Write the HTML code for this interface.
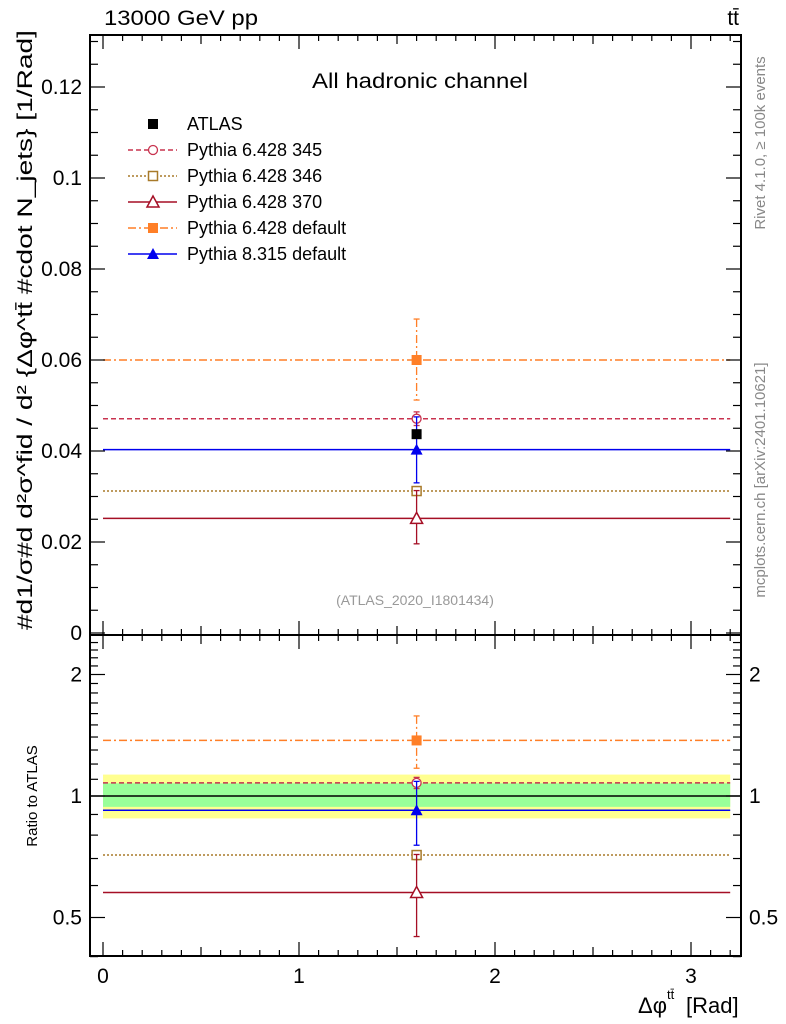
<!DOCTYPE html>
<html><head><meta charset="utf-8"><style>
html,body{margin:0;padding:0;background:#fff;}
svg{display:block;font-family:"Liberation Sans",sans-serif;}
</style></head><body>
<svg id="c" width="786" height="1024" viewBox="0 0 786 1024" xmlns="http://www.w3.org/2000/svg"></svg>
<script>
const xEdges=[0,3.2];
const xCenter=[1.6];
const atlasVal=[0.0437];
const atlasErr=[0.0004];
const seriesNames=["Pythia 6.428 345","Pythia 6.428 346","Pythia 6.428 370","Pythia 6.428 default","Pythia 8.315 default"];
const seriesVals=[[0.0471],[0.0312],[0.0252],[0.0600],[0.0403]];
const seriesErrUp=[[0.0015],[0.0008],[0.0061],[0.0090],[0.0072]];
const seriesErrDn=[[0.0015],[0.0008],[0.0056],[0.0088],[0.0073]];
const mainTicks=[0,0.02,0.04,0.06,0.08,0.1,0.12];
const mainTickLabels=["0","0.02","0.04","0.06","0.08","0.1","0.12"];
const ratioTicks=[0.5,1,2];
const ratioTickLabels=["0.5","1","2"];
const xTicks=[0,1,2,3];
const bandInner=[0.94,1.075];
const bandOuter=[0.88,1.13];

const colors=["#c8334f","#a87a2a","#a50f25","#ff7f27","#0000ee"];
const dashes=["5,3","2,2","","8,3,2,3",""];
const markers=["circle","square","triangle","fsquare","ftriangle"];

const svg=document.getElementById('c');
const NS="http://www.w3.org/2000/svg";
function el(tag,attrs,parent){const e=document.createElementNS(NS,tag);for(const k in attrs)e.setAttribute(k,attrs[k]);(parent||svg).appendChild(e);return e;}
const L=90,R=741,T=35,M=635,B=956;
const X=v=>103+v*196;
const Y=v=>633-v*4550;
const YR=v=>796-121.5*Math.log2(v);

function marker(g,type,x,y,c){
  let m;
  if(type==="circle")m=el('circle',{cx:x,cy:y,r:4.5,fill:'#fff',stroke:c,'stroke-width':1.3},g);
  else if(type==="square")m=el('rect',{x:x-4.5,y:y-4.5,width:9,height:9,fill:'#fff',stroke:c,'stroke-width':1.5},g);
  else if(type==="fsquare")m=el('rect',{x:x-5,y:y-5,width:10,height:10,fill:c},g);
  else if(type==="triangle")m=el('path',{d:`M${x},${y-6}L${x+6},${y+5}L${x-6},${y+5}Z`,fill:'#fff',stroke:c,'stroke-width':1.5},g);
  else m=el('path',{d:`M${x},${y-6}L${x+6},${y+5}L${x-6},${y+5}Z`,fill:c},g);
  
  
}

const bo=el('rect',{x:X(xEdges[0]),y:YR(bandOuter[1]),width:X(xEdges[1])-X(xEdges[0]),height:YR(bandOuter[0])-YR(bandOuter[1]),fill:'#ffff90'});

const bi=el('rect',{x:X(xEdges[0]),y:YR(bandInner[1]),width:X(xEdges[1])-X(xEdges[0]),height:YR(bandInner[0])-YR(bandInner[1]),fill:'#99ff99'});

const one=el('line',{x1:L,x2:R,y1:YR(1),y2:YR(1),stroke:'#000','stroke-width':1.5});


const order=[3,0,4,1,2];
order.forEach(i=>{
  const g=el('g',{});
  
  
  const c=colors[i],d=dashes[i];
  seriesVals[i].forEach((v,j)=>{
    const xc=X(xCenter[j]);
    el('line',{x1:X(xEdges[0]),x2:X(xEdges[1]),y1:Y(v),y2:Y(v),stroke:c,'stroke-width':1.5,'stroke-dasharray':d},g);
    el('line',{x1:xc,x2:xc,y1:Y(v+seriesErrUp[i][j]),y2:Y(v-seriesErrDn[i][j]),stroke:c,'stroke-width':1.3,'stroke-dasharray':d},g);
    [v+seriesErrUp[i][j],v-seriesErrDn[i][j]].forEach(e=>el('line',{x1:xc-3,x2:xc+3,y1:Y(e),y2:Y(e),stroke:c,'stroke-width':1.3},g));
    marker(g,markers[i],xc,Y(v),c);
    const a=atlasVal[j],r=v/a;
    el('line',{x1:X(xEdges[0]),x2:X(xEdges[1]),y1:YR(r),y2:YR(r),stroke:c,'stroke-width':1.5,'stroke-dasharray':d},g);
    el('line',{x1:xc,x2:xc,y1:YR((v+seriesErrUp[i][j])/a),y2:YR((v-seriesErrDn[i][j])/a),stroke:c,'stroke-width':1.3,'stroke-dasharray':d},g);
    [(v+seriesErrUp[i][j])/a,(v-seriesErrDn[i][j])/a].forEach(e=>el('line',{x1:xc-3,x2:xc+3,y1:YR(e),y2:YR(e),stroke:c,'stroke-width':1.3},g));
    marker(g,markers[i],xc,YR(r),c);
  });
});
atlasVal.forEach((v,j)=>{
  const p=el('rect',{x:X(xCenter[j])-5,y:Y(v)-5,width:10,height:10,fill:'#000'});
  
});

const f1=el('rect',{x:L,y:T,width:R-L,height:M-T,fill:'none',stroke:'#000','stroke-width':2});

const f2=el('rect',{x:L,y:M,width:R-L,height:B-M,fill:'none',stroke:'#000','stroke-width':2});


const tg=el('g',{stroke:'#000','stroke-width':1.2});

for(let k=0;k<=32;k++){const v=k/10,x=X(v);const len=(k%10===0)?14:(k%5===0?9:6);
  [[T,T+len],[M,M-len],[M,M+len],[B,B-len]].forEach(p=>el('line',{x1:x,x2:x,y1:p[0],y2:p[1]},tg));}
for(let k=0;k<=26;k++){const v=k*0.005,y=Y(v);if(y<T)continue;const len=(k%4===0)?15:8;
  el('line',{x1:L,x2:L+len,y1:y,y2:y},tg);el('line',{x1:R,x2:R-len,y1:y,y2:y},tg);}
[0.4,0.5,0.6,0.7,0.8,0.9,1,1.1,1.2,1.3,1.4,1.5,1.6,1.7,1.8,1.9,2,2.1,2.2,2.3,2.4,2.5].forEach(v=>{const y=YR(v);const len=(v===0.5||v===1||v===2)?15:8;
  el('line',{x1:L,x2:L+len,y1:y,y2:y},tg);el('line',{x1:R,x2:R-len,y1:y,y2:y},tg);});

function text(s,attrs,name){const t=el('text',attrs);t.textContent=s;return t;}
mainTicks.forEach((v,i)=>text(mainTickLabels[i],{x:82,y:Y(v)+7,'text-anchor':'end','font-size':21},'y-tick-label'));
ratioTicks.forEach((v,i)=>{text(ratioTickLabels[i],{x:82,y:YR(v)+7,'text-anchor':'end','font-size':21},'ratio-tick-label');text(ratioTickLabels[i],{x:749,y:YR(v)+7,'font-size':21},'ratio-tick-label-right');});
xTicks.forEach(v=>text(String(v),{x:X(v),y:983,'text-anchor':'middle','font-size':21},'x-tick-label'));

text("13000 GeV pp",{x:104,y:25,'font-size':21,textLength:154,lengthAdjust:'spacingAndGlyphs'},'energy-label');
text("tt̄",{x:739,y:25,'text-anchor':'end','font-size':21},'process-label');
text("All hadronic channel",{x:312,y:88,'font-size':21,textLength:216,lengthAdjust:'spacingAndGlyphs'},'channel-label');
text("(ATLAS_2020_I1801434)",{x:415,y:605,'text-anchor':'middle','font-size':14,fill:'#999'},'analysis-id');
text("Δφ",{x:638,y:1013,'font-size':22},'x-axis-title');
text("tt̄",{x:667,y:999,'font-size':13},'x-axis-title-sup');
text("[Rad]",{x:686,y:1013,'font-size':22},'x-axis-title-unit');
text("Ratio to ATLAS",{x:0,y:0,'font-size':15,transform:'translate(37,796) rotate(-90)','text-anchor':'middle'},'ratio-y-title');
text("#d1/σ#d  d²σ^fid / d² {Δφ^tt̄ #cdot N_jets} [1/Rad]",{x:0,y:0,'font-size':21,transform:'translate(32,630) rotate(-90)',textLength:600,lengthAdjust:'spacingAndGlyphs'},'y-axis-title');
text("Rivet 4.1.0, ≥ 100k events",{x:0,y:0,'font-size':15,fill:'#888',transform:'translate(765,143) rotate(-90)','text-anchor':'middle'},'rivet-label');
text("mcplots.cern.ch [arXiv:2401.10621]",{x:0,y:0,'font-size':15,fill:'#888',transform:'translate(765,480) rotate(-90)','text-anchor':'middle'},'mcplots-label');

const lg=el('g',{});
const ly=[124,150,176,202,228,254];
const la=el('rect',{x:148,y:ly[0]-5,width:10,height:10,fill:'#000'},lg);

text("ATLAS",{x:187,y:ly[0]+6,'font-size':18},'legend-entry');
seriesNames.forEach((n,i)=>{
  const y=ly[i+1];
  const ln=el('line',{x1:128,x2:177,y1:y,y2:y,stroke:colors[i],'stroke-width':1.5,'stroke-dasharray':dashes[i]},lg);
  
  marker(lg,markers[i],153,y,colors[i]);
  text(n,{x:187,y:y+6,'font-size':18},'legend-entry');
});
</script>
</body></html>
